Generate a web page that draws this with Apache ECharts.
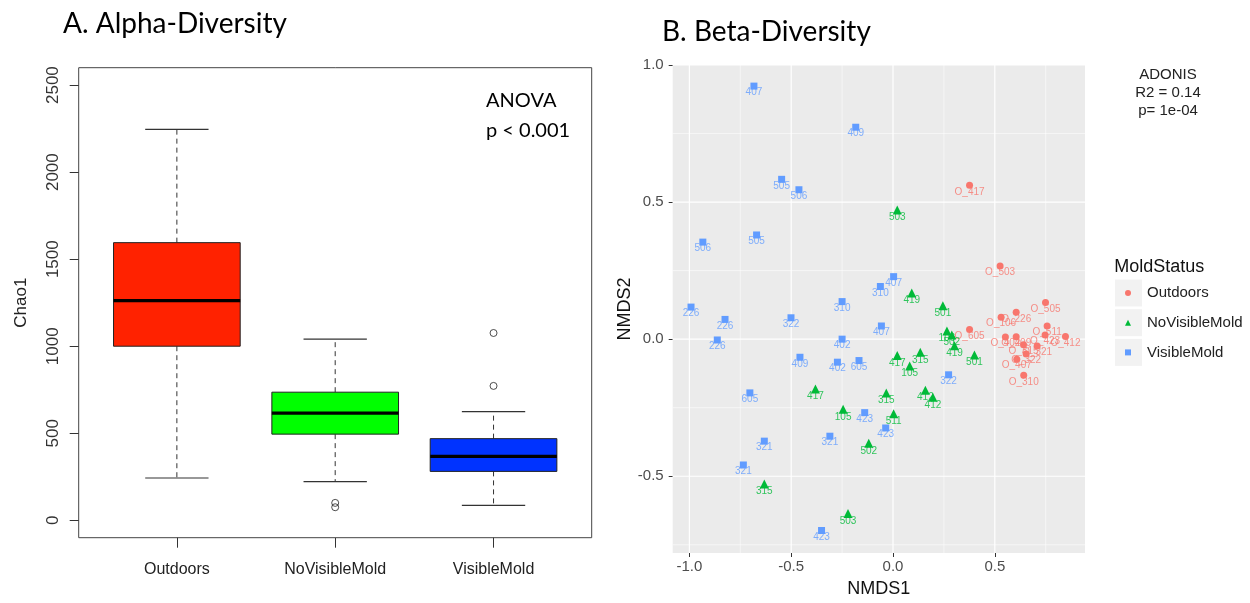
<!DOCTYPE html>
<html>
<head>
<meta charset="utf-8">
<title>Alpha- and Beta-Diversity</title>
<script src="https://cdn.jsdelivr.net/npm/echarts@6/dist/echarts.min.js"></script>
<style>
  html, body { margin: 0; padding: 0; background: #ffffff; }
  #chart { width: 1250px; height: 603px; }
</style>
</head>
<body>
<div id="chart"></div>
<script>
// ---------- Panel A: Chao1 richness by mold status ----------
const boxCategories = ['Outdoors', 'NoVisibleMold', 'VisibleMold'];
// [lower whisker, Q1, median, Q3, upper whisker]
const chao1Outdoors = [243, 1000, 1262, 1595, 2246];
const chao1NoVisibleMold = [222, 495, 616, 736, 1041];
const chao1VisibleMold = [86, 281, 367, 469, 624];
// outlying samples: [category index, Chao1]
const chao1Outliers = [[1, 100], [1, 75], [2, 1076], [2, 772]];
const chao1Ticks = [0, 500, 1000, 1500, 2000, 2500];
const boxFill = ['#ff2200', '#00ff00', '#0033ff'];

// ---------- Panel B: NMDS ordination ----------
// [NMDS1, NMDS2, sample]
const outdoorsPts = [
  [0.376, 0.561, 'O_417'], [0.526, 0.267, 'O_503'], [0.749, 0.134, 'O_505'],
  [0.605, 0.098, 'O_226'], [0.531, 0.080, 'O_106'], [0.376, 0.035, 'O_605'],
  [0.757, 0.048, 'O_511'], [0.747, 0.015, 'O_423'], [0.847, 0.010, 'O_412'],
  [0.552, 0.008, 'O_402'], [0.605, 0.009, 'O_409'], [0.641, -0.020, 'O_315'],
  [0.708, -0.025, 'O_321'], [0.654, -0.054, 'O_322'], [0.608, -0.073, 'O_407'],
  [0.642, -0.132, 'O_310']
];
const noVisibleMoldPts = [
  [0.021, 0.471, '503'], [0.092, 0.168, '419'], [0.245, 0.122, '501'],
  [0.265, 0.030, '106'], [0.289, 0.015, '502'], [0.302, -0.024, '419'],
  [0.400, -0.058, '501'], [0.021, -0.060, '417'], [0.134, -0.048, '315'],
  [0.082, -0.098, '105'], [-0.381, -0.182, '417'], [-0.033, -0.196, '315'],
  [0.159, -0.186, '412'], [0.196, -0.212, '412'], [-0.245, -0.256, '105'],
  [0.003, -0.272, '511'], [-0.119, -0.380, '502'], [-0.632, -0.528, '315'],
  [-0.221, -0.636, '503']
];
const visibleMoldPts = [
  [-0.683, 0.923, '407'], [-0.183, 0.773, '409'], [-0.547, 0.583, '505'],
  [-0.462, 0.545, '506'], [-0.934, 0.354, '506'], [-0.670, 0.380, '505'],
  [0.003, 0.228, '407'], [-0.062, 0.192, '310'], [-0.250, 0.137, '310'],
  [-0.992, 0.117, '226'], [-0.825, 0.072, '226'], [-0.501, 0.078, '322'],
  [-0.057, 0.048, '407'], [-0.863, -0.003, '226'], [-0.250, 0.000, '402'],
  [-0.457, -0.066, '409'], [-0.273, -0.084, '402'], [-0.167, -0.078, '605'],
  [0.273, -0.130, '322'], [-0.703, -0.196, '605'], [-0.139, -0.268, '423'],
  [-0.036, -0.324, '423'], [-0.310, -0.354, '321'], [-0.632, -0.372, '321'],
  [-0.735, -0.459, '321'], [-0.351, -0.698, '423']
];
const nmds1Major = [-1.0, -0.5, 0.0, 0.5];
const nmds1Minor = [-0.75, -0.25, 0.25, 0.75];
const nmds2Major = [-0.5, 0.0, 0.5, 1.0];
const nmds2Minor = [-0.75, -0.25, 0.25, 0.75];
const groupNames = ['Outdoors', 'NoVisibleMold', 'VisibleMold'];
const groupColors = ['#F8766D', '#00BA38', '#619CFF'];
const groupSymbols = ['circle', 'triangle', 'rect'];
const groupSizes = [7, 9, 7];

const SANS = '"Liberation Sans", Arial, sans-serif';
const TITLE = 'Lato, "Open Sans", sans-serif';

const chao1Stats = [chao1Outdoors, chao1NoVisibleMold, chao1VisibleMold];
const boxData = chao1Stats.map((s, i) => [i + 1].concat(s));

// white panel grid for the ordination
const gridLineData = []
  .concat(nmds1Minor.map(v => [v, 0, 0]))
  .concat(nmds2Minor.map(v => [v, 1, 0]))
  .concat(nmds1Major.map(v => [v, 0, 1]))
  .concat(nmds2Major.map(v => [v, 1, 1]));

function renderBox(params, api) {
  const x = api.value(0);
  const lo = api.value(1), q1 = api.value(2), med = api.value(3), q3 = api.value(4), hi = api.value(5);
  const tl = api.coord([x - 0.4, q3]);
  const br = api.coord([x + 0.4, q1]);
  const mL = api.coord([x - 0.4, med]);
  const mR = api.coord([x + 0.4, med]);
  const top = api.coord([x, hi]);
  const bot = api.coord([x, lo]);
  const capL = api.coord([x - 0.2, hi])[0];
  const capR = api.coord([x + 0.2, hi])[0];
  const whisk = { stroke: '#333', lineWidth: 1, lineDash: [5, 4] };
  const solid = { stroke: '#333', lineWidth: 1.2 };
  return {
    type: 'group',
    children: [
      { type: 'line', shape: { x1: top[0], y1: tl[1], x2: top[0], y2: top[1] }, style: whisk },
      { type: 'line', shape: { x1: bot[0], y1: br[1], x2: bot[0], y2: bot[1] }, style: whisk },
      { type: 'line', shape: { x1: capL, y1: top[1], x2: capR, y2: top[1] }, style: solid },
      { type: 'line', shape: { x1: capL, y1: bot[1], x2: capR, y2: bot[1] }, style: solid },
      { type: 'rect', shape: { x: tl[0], y: tl[1], width: br[0] - tl[0], height: br[1] - tl[1] },
        style: { fill: boxFill[params.dataIndex], stroke: '#222', lineWidth: 1 } },
      { type: 'line', shape: { x1: mL[0], y1: mL[1], x2: mR[0], y2: mR[1] },
        style: { stroke: '#000', lineWidth: 3.2 } }
    ]
  };
}

function renderGridLine(params, api) {
  const v = api.value(0), horiz = api.value(1), major = api.value(2);
  const cs = params.coordSys;
  const w = major ? 1.2 : 0.55;
  if (horiz) {
    const y = api.coord([0, v])[1];
    return { type: 'line', shape: { x1: cs.x, y1: y, x2: cs.x + cs.width, y2: y },
      style: { stroke: '#ffffff', lineWidth: w } };
  }
  const x = api.coord([v, 0])[0];
  return { type: 'line', shape: { x1: x, y1: cs.y, x2: x, y2: cs.y + cs.height },
    style: { stroke: '#ffffff', lineWidth: w } };
}

const chart = echarts.init(document.getElementById('chart'), null, { renderer: 'canvas' });

const scatterSeries = groupNames.map((name, g) => ({
  name: name,
  type: 'scatter',
  xAxisIndex: 1,
  yAxisIndex: 1,
  symbol: groupSymbols[g],
  symbolSize: groupSizes[g],
  itemStyle: { color: groupColors[g], opacity: 1 },
  data: [outdoorsPts, noVisibleMoldPts, visibleMoldPts][g].map(p => ({ value: [p[0], p[1]], name: p[2] })),
  label: {
    show: true,
    formatter: '{b}',
    position: 'bottom',
    distance: -2,
    fontFamily: SANS,
    fontSize: 10,
    color: groupColors[g],
    opacity: 0.8
  },
  emphasis: { disabled: true },
  z: 3
}));

chart.setOption({
  animation: false,
  backgroundColor: '#ffffff',
  grid: [
    { left: 78.7, top: 67.7, width: 513, height: 470, show: true,
      borderColor: '#444', borderWidth: 1, backgroundColor: '#ffffff' },
    { left: 672.7, top: 65, width: 412.3, height: 495, show: true,
      borderWidth: 0, backgroundColor: '#EBEBEB' }
  ],
  xAxis: [
    {
      gridIndex: 0, type: 'value', min: 0.38, max: 3.62,
      axisLine: { show: false, onZero: false },
      splitLine: { show: false },
      axisTick: { show: true, length: 10, customValues: [1, 2, 3], lineStyle: { color: '#333' } },
      axisLabel: {
        customValues: [1, 2, 3], margin: 24,
        formatter: v => boxCategories[Math.round(v) - 1] || '',
        fontFamily: SANS, fontSize: 16, color: '#222'
      }
    },
    {
      gridIndex: 1, type: 'value', min: -1.082, max: 0.943,
      axisLine: { show: false, onZero: false },
      splitLine: { show: false },
      axisTick: { show: true, length: 4, customValues: nmds1Major, lineStyle: { color: '#333' } },
      axisLabel: {
        customValues: nmds1Major, margin: 6,
        formatter: v => v.toFixed(1),
        fontFamily: SANS, fontSize: 15, color: '#4d4d4d'
      },
      name: 'NMDS1', nameLocation: 'middle', nameGap: 27,
      nameTextStyle: { fontFamily: SANS, fontSize: 18, color: '#111' }
    }
  ],
  yAxis: [
    {
      gridIndex: 0, type: 'value', min: -100, max: 2600,
      axisLine: { show: false, onZero: false },
      splitLine: { show: false },
      axisTick: { show: true, length: 9, customValues: chao1Ticks, lineStyle: { color: '#333' } },
      axisLabel: {
        customValues: chao1Ticks, rotate: 90, margin: 17,
        formatter: v => String(v),
        fontFamily: SANS, fontSize: 17, color: '#333'
      },
      name: 'Chao1', nameLocation: 'middle', nameGap: 49,
      nameTextStyle: { fontFamily: SANS, fontSize: 17, color: '#222' }
    },
    {
      gridIndex: 1, type: 'value', min: -0.78, max: 1.0,
      axisLine: { show: false, onZero: false },
      splitLine: { show: false },
      axisTick: { show: true, length: 4, customValues: nmds2Major, lineStyle: { color: '#333' } },
      axisLabel: {
        customValues: nmds2Major, margin: 9,
        formatter: v => v.toFixed(1),
        fontFamily: SANS, fontSize: 15, color: '#4d4d4d'
      },
      name: 'NMDS2', nameLocation: 'middle', nameGap: 38,
      nameTextStyle: { fontFamily: SANS, fontSize: 18, color: '#111' }
    }
  ],
  legend: {
    data: groupNames,
    orient: 'vertical',
    left: 1125, top: 279.5,
    padding: 0,
    itemWidth: 6, itemHeight: 6, itemGap: 2.7,
    selectedMode: false,
    textStyle: { fontFamily: SANS, fontSize: 15, color: '#222', lineHeight: 27, padding: [0, 0, 0, 11] }
  },
  graphic: [
    { type: 'text', x: 63, y: 24, style: { text: 'A. Alpha-Diversity', font: '28px ' + TITLE, fill: '#000', verticalAlign: 'middle' } },
    { type: 'text', x: 662, y: 32, style: { text: 'B. Beta-Diversity', font: '28px ' + TITLE, fill: '#000', verticalAlign: 'middle' } },
    { type: 'text', x: 486, y: 101, style: { text: 'ANOVA', font: '20px ' + TITLE, fill: '#000', verticalAlign: 'middle' } },
    { type: 'text', x: 486, y: 131, style: { text: 'p < 0.001', font: '20px ' + TITLE, fill: '#000', verticalAlign: 'middle' } },
    { type: 'text', x: 1168, y: 75, style: { text: 'ADONIS', font: '15px ' + SANS, fill: '#222', align: 'center', verticalAlign: 'middle' } },
    { type: 'text', x: 1168, y: 93, style: { text: 'R2 = 0.14', font: '15px ' + SANS, fill: '#222', align: 'center', verticalAlign: 'middle' } },
    { type: 'text', x: 1168, y: 110.7, style: { text: 'p= 1e-04', font: '15px ' + SANS, fill: '#222', align: 'center', verticalAlign: 'middle' } },
    { type: 'text', x: 1114.3, y: 266.7, style: { text: 'MoldStatus', font: '18px ' + SANS, fill: '#111', verticalAlign: 'middle' } },
    { type: 'rect', z: 0, shape: { x: 1115, y: 279.5, width: 27, height: 27 }, style: { fill: '#F2F2F2' } },
    { type: 'rect', z: 0, shape: { x: 1115, y: 309.2, width: 27, height: 27 }, style: { fill: '#F2F2F2' } },
    { type: 'rect', z: 0, shape: { x: 1115, y: 338.9, width: 27, height: 27 }, style: { fill: '#F2F2F2' } }
  ],
  series: [
    {
      name: 'Chao1', type: 'custom', xAxisIndex: 0, yAxisIndex: 0,
      renderItem: renderBox, data: boxData, silent: true, z: 2
    },
    {
      name: 'Chao1 outliers', type: 'scatter', xAxisIndex: 0, yAxisIndex: 0,
      symbol: 'circle', symbolSize: 7,
      itemStyle: { color: 'rgba(0,0,0,0)', borderColor: '#222', borderWidth: 1 },
      data: chao1Outliers.map(o => [o[0] + 1, o[1]]),
      silent: true, z: 3
    },
    {
      name: 'panel grid', type: 'custom', xAxisIndex: 1, yAxisIndex: 1,
      renderItem: renderGridLine, data: gridLineData, silent: true, z: 1
    }
  ].concat(scatterSeries)
});
</script>
</body>
</html>
